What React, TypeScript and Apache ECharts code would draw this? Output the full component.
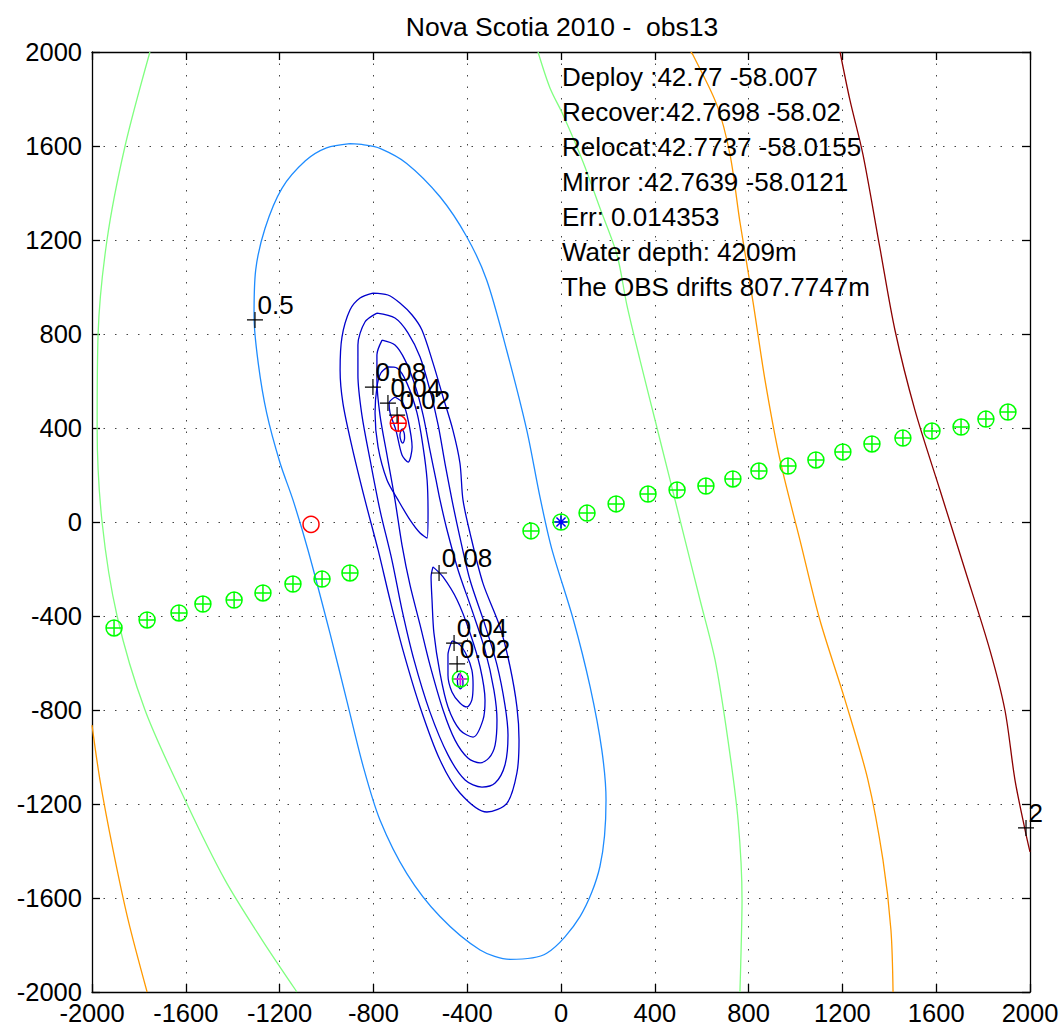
import React, { useEffect, useRef } from "react";
import * as echarts from "echarts";

const AXIS_MIN = -2000;
const AXIS_MAX = 2000;
const TICK_STEP = 400;

const TITLE = "Nova Scotia 2010 -  obs13";
const INFO_LINES = [
  "Deploy :42.77 -58.007",
  "Recover:42.7698 -58.02",
  "Relocat:42.7737 -58.0155",
  "Mirror :42.7639 -58.0121",
  "Err: 0.014353",
  "Water depth: 4209m",
  "The OBS drifts 807.7747m",
];

// contour level 0.5 (light blue)
const contour05 = [
  [-900, 1610], [-840, 1605], [-772, 1590], [-658, 1526], [-516, 1384], [-402, 1214], [-317, 1030],
  [-232, 732], [-146, 391], [-90, 108], [-40, -112], [53, -417], [124, -701], [174, -970],
  [192, -1183], [166, -1466], [81, -1679], [-61, -1835], [-217, -1861], [-345, -1821],
  [-516, -1679], [-658, -1495], [-772, -1268], [-843, -1042], [-914, -758], [-985, -474],
  [-1079, -119], [-1143, 94], [-1198, 251], [-1255, 463], [-1291, 675], [-1309, 874],
  [-1302, 1072], [-1262, 1250], [-1190, 1420], [-1090, 1537], [-1000, 1592],
  [-900, 1610],
];

// dark blue contours
const contourOuter1 = [
  [-802, 974], [-738, 966], [-687, 932], [-635, 881], [-593, 817], [-546, 677], [-503, 532],
  [-461, 391], [-431, 251], [-418, 94], [-388, -47], [-333, -260], [-260, -447], [-217, -617],
  [-188, -787], [-179, -928], [-188, -1068], [-230, -1196], [-316, -1234], [-431, -1153],
  [-516, -1013], [-601, -787], [-674, -545], [-729, -332], [-780, -119], [-836, 94],
  [-891, 319], [-930, 506], [-942, 647], [-934, 787], [-900, 902], [-857, 953], [-802, 974],
];
const contourOuter2 = [
  [-785, 889], [-708, 868], [-652, 804], [-601, 702], [-559, 562], [-524, 413], [-495, 251],
  [-465, 94], [-435, -47], [-388, -247], [-324, -438], [-273, -608], [-239, -779], [-226, -906],
  [-239, -1034], [-281, -1111], [-337, -1128], [-409, -1098], [-482, -991], [-559, -808],
  [-627, -587], [-678, -374], [-721, -162], [-772, 51], [-814, 264], [-849, 455], [-866, 626],
  [-866, 753], [-836, 851], [-785, 889],
];
const contourOuter3 = [
  [-763, 774], [-708, 753], [-665, 689], [-623, 583], [-588, 455], [-559, 306], [-533, 179],
  [-516, 94], [-486, -34], [-439, -204], [-380, -374], [-324, -545], [-286, -715], [-273, -843],
  [-281, -949], [-307, -1004], [-345, -1025], [-397, -1004], [-452, -928], [-503, -800],
  [-559, -608], [-601, -438], [-644, -268], [-678, -98], [-708, 94], [-742, 285], [-772, 455],
  [-785, 604], [-785, 711], [-763, 774],
];
const contourUpper008 = [
  [-738, 660], [-699, 655], [-657, 591], [-614, 464], [-588, 319], [-571, 179], [-567, 38],
  [-571, -68], [-601, -47], [-644, 9], [-695, 94], [-742, 179], [-780, 319], [-793, 464],
  [-785, 574], [-768, 634], [-738, 660],
];
const contourUpper004 = [
  [-708, 532], [-674, 506], [-652, 434], [-635, 319], [-652, 255], [-678, 285], [-704, 391],
  [-729, 464], [-733, 506], [-708, 532],
];
const contourUpper002 = [
  [-678, 396], [-669, 379], [-667, 357], [-674, 336], [-682, 345], [-687, 370], [-682, 391],
  [-678, 396],
];
const contourLower008 = [
  [-546, -191], [-503, -234], [-443, -332], [-388, -472], [-345, -617], [-324, -758],
  [-333, -843], [-375, -915], [-431, -885], [-482, -787], [-516, -643], [-542, -472],
  [-550, -332], [-554, -234], [-546, -191],
];
const contourLower004 = [
  [-465, -506], [-431, -523], [-401, -570], [-380, -630], [-375, -694], [-380, -757],
  [-401, -787], [-431, -770], [-465, -723], [-482, -651], [-482, -566], [-465, -506],
];
const contourLower002 = [
  [-435, -645], [-420, -660], [-418, -690], [-428, -710], [-440, -695], [-442, -665], [-435, -645],
];

// contour level 1 (light green)
const contour1Left = [
  [-1753, 2000], [-1859, 1600], [-1936, 1200], [-1974, 800], [-1978, 400], [-1957, 0],
  [-1893, -400], [-1774, -800], [-1603, -1183], [-1433, -1523], [-1275, -1778], [-1126, -2000],
];
const contour1Right = [
  [-98, 2000], [-47, 1847], [9, 1732], [94, 1532], [166, 1336], [239, 1136], [281, 923],
  [337, 689], [401, 434], [465, 179], [529, -77], [593, -332], [657, -587], [712, -928],
  [755, -1268], [772, -1608], [768, -1821], [763, -2000],
];
// contour level 1.5 (orange)
const contour15Left = [
  [-2000, -864], [-1966, -1098], [-1910, -1396], [-1846, -1693], [-1765, -2000],
];
const contour15Right = [
  [554, 2000], [563, 1987], [665, 1774], [721, 1562], [763, 1277], [819, 936], [870, 604],
  [934, 264], [1019, -77], [1104, -417], [1211, -757], [1309, -1098], [1373, -1438],
  [1407, -1736], [1416, -2000],
];
// contour level 2 (dark red)
const contour2 = [
  [1190, 2000], [1232, 1796], [1288, 1562], [1360, 1166], [1424, 817], [1509, 477],
  [1616, 136], [1723, -204], [1829, -545], [1893, -800], [1936, -1098], [1979, -1311],
  [2000, -1404],
];

// shot positions (green circles with plus)
const shots = [
  [-1906, -451], [-1765, -417], [-1629, -387], [-1527, -349], [-1394, -332], [-1271, -302],
  [-1143, -264], [-1019, -243], [-900, -217], [-128, -38], [0, 0], [111, 38], [235, 77],
  [371, 119], [495, 136], [618, 153], [733, 183], [844, 217], [968, 238], [1087, 264],
  [1202, 298], [1326, 332], [1458, 357], [1582, 387], [1706, 404], [1812, 438], [1906, 468],
];
const deployPoint = [[0, 0]];
const relocatPoint = [[-694, 420]];
const mirrorPoint = [[-1066, -10]];
const bestPoint = [[-429, -668]];

// contour labels [x, y, text]
const contourLabels = [
  [-1305, 860, "0.5"],
  [-802, 574, "0.08"],
  [-738, 506, "0.04"],
  [-699, 455, "0.02"],
  [-520, -217, "0.08"],
  [-456, -515, "0.04"],
  [-443, -604, "0.02"],
  [1983, -1302, "2"],
];

const FONT = "'Liberation Sans', Arial, Helvetica, sans-serif";
const CIRCLE_PLUS = "path://M0,10A10,10 0 1,1 20,10A10,10 0 1,1 0,10ZM0,10L20,10M10,0L10,20";
const PLUS = "path://M0,10L20,10M10,0L10,20";
const ASTERISK = "path://M0,10L20,10M10,0L10,20M3,3L17,17M3,17L17,3";

function lineSeries(data: number[][], color: string) {
  return {
    type: "line",
    data,
    smooth: 0.3,
    showSymbol: false,
    symbol: "none",
    lineStyle: { color, width: 1.3 },
    silent: true,
    z: 2,
  };
}

function markerSeries(data: any[], symbol: string, size: number, color: string, z: number, width = 1.5) {
  return {
    type: "scatter",
    data,
    symbol,
    symbolSize: size,
    itemStyle: { color: "rgba(0,0,0,0)", borderColor: color, borderWidth: width, opacity: 1 },
    z,
    silent: true,
  };
}

export default function App() {
  const ref = useRef<HTMLDivElement>(null);
  useEffect(() => {
    document.body.style.margin = "0";
    const chart = echarts.init(ref.current!, null, { renderer: "svg" });
    const grid = {
      color: "#444",
      width: 1,
      type: [1.5, 10],
    };
    const darkBlue = "#0000CC";
    const axisCommon = {
      type: "value",
      min: AXIS_MIN,
      max: AXIS_MAX,
      interval: TICK_STEP,
      axisLine: { show: true, onZero: false, lineStyle: { color: "#000", width: 1.3 } },
      axisTick: { show: true, inside: true, length: 8, lineStyle: { color: "#000", width: 1.3 } },
    };
    chart.setOption({
      animation: false,
      backgroundColor: "#fff",
      title: {
        text: TITLE,
        left: 557,
        top: 8,
        textAlign: "center",
        textStyle: { fontFamily: FONT, fontSize: 26.5, fontWeight: "normal", color: "#000" },
      },
      grid: { left: 92, top: 52, right: 33, bottom: 36, containLabel: false },
      xAxis: [
        {
          ...axisCommon,
          position: "bottom",
          axisLabel: {
            color: "#000",
            fontFamily: FONT,
            fontSize: 25.5,
            margin: 8,
            formatter: (v: number) => String(v),
          },
          splitLine: { show: true, lineStyle: grid },
        },
        {
          ...axisCommon,
          position: "top",
          axisLabel: { show: false },
          splitLine: { show: false },
        },
      ],
      yAxis: [
        {
          ...axisCommon,
          position: "left",
          axisLabel: {
            color: "#000",
            fontFamily: FONT,
            fontSize: 25.5,
            margin: 10,
            formatter: (v: number) => String(v),
          },
          splitLine: { show: true, lineStyle: grid },
        },
        {
          ...axisCommon,
          position: "right",
          axisLabel: { show: false },
          splitLine: { show: false },
        },
      ],
      graphic: [
        {
          type: "text",
          x: 562,
          y: 59,
          z: 100,
          style: {
            text: INFO_LINES.join("\n"),
            font: `26px ${FONT}`,
            lineHeight: 35,
            fill: "#000",
          },
        },
      ],
      series: [
        lineSeries(contour05, "#1E8CFF"),
        lineSeries(contourOuter1, darkBlue),
        lineSeries(contourOuter2, darkBlue),
        lineSeries(contourOuter3, darkBlue),
        lineSeries(contourUpper008, darkBlue),
        lineSeries(contourUpper004, darkBlue),
        lineSeries(contourUpper002, darkBlue),
        lineSeries(contourLower008, darkBlue),
        lineSeries(contourLower004, darkBlue),
        lineSeries(contourLower002, darkBlue),
        lineSeries(contour1Left, "#80FF80"),
        lineSeries(contour1Right, "#80FF80"),
        lineSeries(contour15Left, "#FF9900"),
        lineSeries(contour15Right, "#FF9900"),
        lineSeries(contour2, "#8B0000"),
        markerSeries(shots, CIRCLE_PLUS, 16, "#00FF00", 5),
        markerSeries(bestPoint, CIRCLE_PLUS, 16, "#00FF00", 5),
        markerSeries(bestPoint, PLUS, 12, "#FF00FF", 6),
        markerSeries(relocatPoint, CIRCLE_PLUS, 16, "#FF0000", 5),
        markerSeries(mirrorPoint, "circle", 16, "#FF0000", 5),
        markerSeries(deployPoint, ASTERISK, 13, "#0000FF", 6),
        {
          ...markerSeries(
            contourLabels.map((d) => ({ value: [d[0], d[1]], name: d[2] })),
            PLUS,
            16,
            "#000",
            7,
            1.2
          ),
          label: {
            show: true,
            position: "right",
            distance: 0,
            offset: [-6, -15],
            formatter: (p: any) => p.name,
            color: "#000",
            opacity: 1,
            fontFamily: FONT,
            fontSize: 26,
          },
        },
      ],
    });
    return () => chart.dispose();
  }, []);
  return <div ref={ref} style={{ width: 1063, height: 1028 }} />;
}
